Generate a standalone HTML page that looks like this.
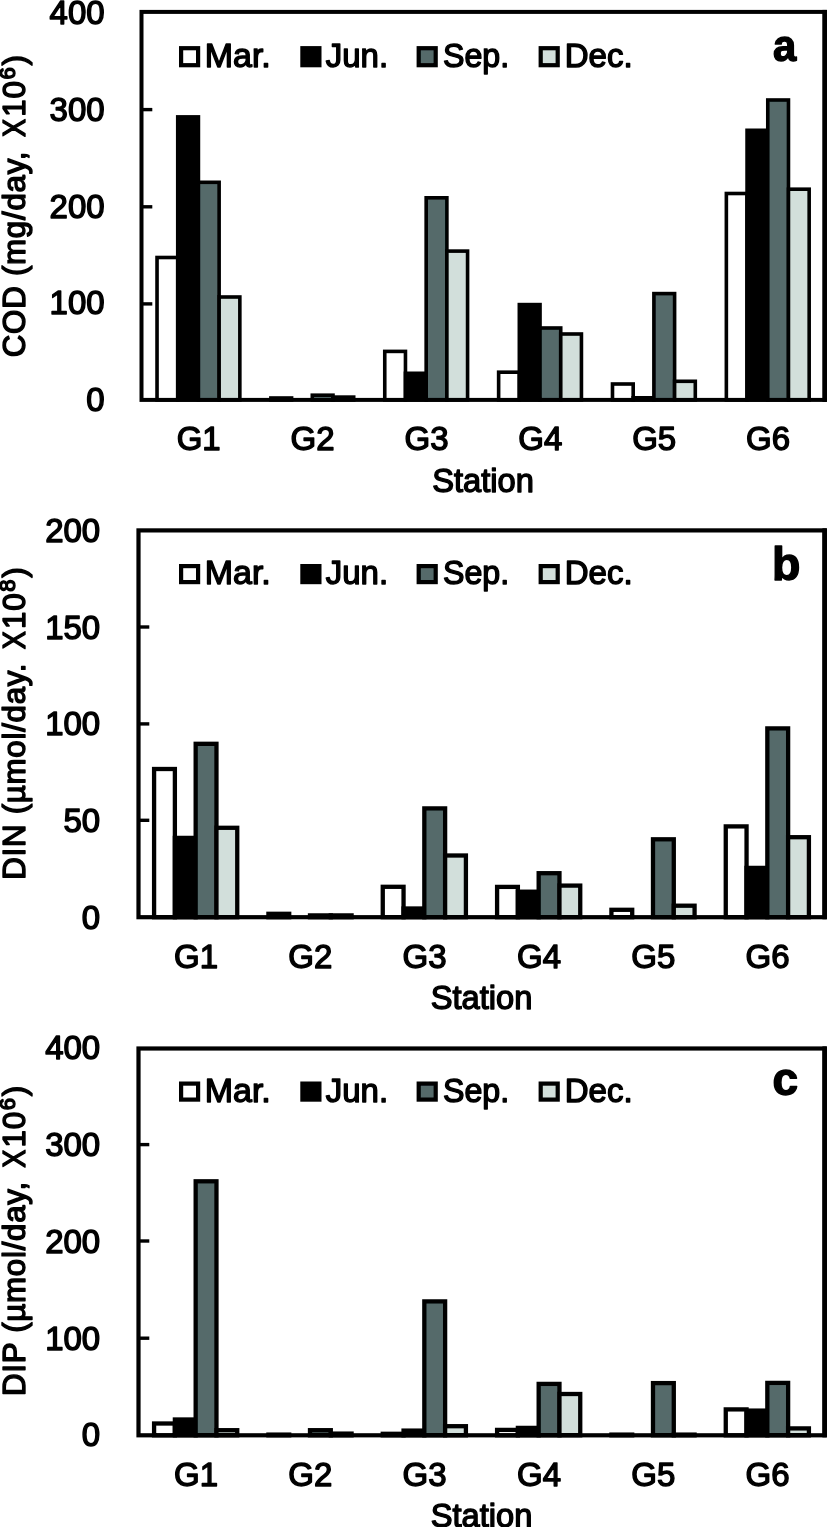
<!DOCTYPE html>
<html><head><meta charset="utf-8"><title>Figure</title>
<style>
html,body{margin:0;padding:0;background:#fff;}
body{width:827px;height:1527px;overflow:hidden;}
svg{display:block;}
text{font-family:"Liberation Sans",sans-serif;fill:#000;stroke:#000;stroke-width:1.4px;stroke-linejoin:round;}
.b{font-weight:bold;}
</style></head><body>
<svg width="827" height="1527" viewBox="0 0 827 1527">
<defs><filter id="soft" x="0" y="0" width="827" height="1527" filterUnits="userSpaceOnUse"><feGaussianBlur stdDeviation="0.55"/></filter></defs>
<rect width="827" height="1527" fill="#fff"/>
<g filter="url(#soft)">
<g>
<rect x="157.03" y="257.50" width="20.70" height="142.40" fill="#ffffff" stroke="#000" stroke-width="3.6"/>
<rect x="177.73" y="116.90" width="20.70" height="283.00" fill="#000000" stroke="#000" stroke-width="3.6"/>
<rect x="198.43" y="182.30" width="20.70" height="217.60" fill="#556a6b" stroke="#000" stroke-width="3.6"/>
<rect x="219.14" y="297.00" width="20.70" height="102.90" fill="#d2dfdb" stroke="#000" stroke-width="3.6"/>
<rect x="270.89" y="398.00" width="20.70" height="1.90" fill="#ffffff" stroke="#000" stroke-width="3.6"/>
<rect x="312.30" y="395.20" width="20.70" height="4.70" fill="#556a6b" stroke="#000" stroke-width="3.6"/>
<rect x="333.00" y="397.10" width="20.70" height="2.80" fill="#d2dfdb" stroke="#000" stroke-width="3.6"/>
<rect x="384.76" y="351.40" width="20.70" height="48.50" fill="#ffffff" stroke="#000" stroke-width="3.6"/>
<rect x="405.46" y="373.30" width="20.70" height="26.60" fill="#000000" stroke="#000" stroke-width="3.6"/>
<rect x="426.17" y="197.80" width="20.70" height="202.10" fill="#556a6b" stroke="#000" stroke-width="3.6"/>
<rect x="446.87" y="251.10" width="20.70" height="148.80" fill="#d2dfdb" stroke="#000" stroke-width="3.6"/>
<rect x="498.63" y="372.20" width="20.70" height="27.70" fill="#ffffff" stroke="#000" stroke-width="3.6"/>
<rect x="519.33" y="304.60" width="20.70" height="95.30" fill="#000000" stroke="#000" stroke-width="3.6"/>
<rect x="540.03" y="328.00" width="20.70" height="71.90" fill="#556a6b" stroke="#000" stroke-width="3.6"/>
<rect x="560.74" y="334.00" width="20.70" height="65.90" fill="#d2dfdb" stroke="#000" stroke-width="3.6"/>
<rect x="612.49" y="384.00" width="20.70" height="15.90" fill="#ffffff" stroke="#000" stroke-width="3.6"/>
<rect x="633.20" y="397.80" width="20.70" height="2.10" fill="#000000" stroke="#000" stroke-width="3.6"/>
<rect x="653.90" y="293.60" width="20.70" height="106.30" fill="#556a6b" stroke="#000" stroke-width="3.6"/>
<rect x="674.60" y="381.30" width="20.70" height="18.60" fill="#d2dfdb" stroke="#000" stroke-width="3.6"/>
<rect x="726.36" y="193.50" width="20.70" height="206.40" fill="#ffffff" stroke="#000" stroke-width="3.6"/>
<rect x="747.06" y="130.30" width="20.70" height="269.60" fill="#000000" stroke="#000" stroke-width="3.6"/>
<rect x="767.77" y="100.00" width="20.70" height="299.90" fill="#556a6b" stroke="#000" stroke-width="3.6"/>
<rect x="788.47" y="189.20" width="20.70" height="210.70" fill="#d2dfdb" stroke="#000" stroke-width="3.6"/>
<rect x="141.5" y="11.9" width="683.2" height="388.0" fill="none" stroke="#000" stroke-width="4.0"/>
<rect x="822.4" y="9.9" width="6" height="392.0" fill="#000"/>
<line x1="141.5" y1="109.6" x2="152.3" y2="109.6" stroke="#000" stroke-width="3.4"/>
<line x1="141.5" y1="206.8" x2="152.3" y2="206.8" stroke="#000" stroke-width="3.4"/>
<line x1="141.5" y1="303.9" x2="152.3" y2="303.9" stroke="#000" stroke-width="3.4"/>
<text transform="translate(104.6,24.3) scale(1.0,1)" font-size="33" text-anchor="end">400</text>
<text transform="translate(104.6,121.0) scale(1.0,1)" font-size="33" text-anchor="end">300</text>
<text transform="translate(104.6,217.6) scale(1.0,1)" font-size="33" text-anchor="end">200</text>
<text transform="translate(104.6,314.4) scale(1.0,1)" font-size="33" text-anchor="end">100</text>
<text transform="translate(104.6,410.8) scale(1.0,1)" font-size="33" text-anchor="end">0</text>
<rect x="181.1" y="48.2" width="17.0" height="17.0" fill="#ffffff" stroke="#000" stroke-width="4.2"/>
<text transform="translate(204.7,66.7) scale(1.03,1)" font-size="33" text-anchor="start">Mar.</text>
<rect x="302.4" y="48.2" width="17.0" height="17.0" fill="#000000" stroke="#000" stroke-width="4.2"/>
<text transform="translate(325.7,66.7) scale(1.0,1)" font-size="33" text-anchor="start">Jun.</text>
<rect x="418.7" y="48.2" width="17.0" height="17.0" fill="#556a6b" stroke="#000" stroke-width="4.2"/>
<text transform="translate(443.0,66.7) scale(0.975,1)" font-size="33" text-anchor="start">Sep.</text>
<rect x="540.7" y="48.2" width="17.0" height="17.0" fill="#d2dfdb" stroke="#000" stroke-width="4.2"/>
<text transform="translate(564.7,66.7) scale(1.0,1)" font-size="33" text-anchor="start">Dec.</text>
<text transform="translate(784.7,61.3) scale(0.93,1)" font-size="45" text-anchor="middle" class="b">a</text>
<text transform="translate(198.7,450.2) scale(1.0,1)" font-size="33" text-anchor="middle">G1</text>
<text transform="translate(312.6,450.2) scale(1.0,1)" font-size="33" text-anchor="middle">G2</text>
<text transform="translate(426.5,450.2) scale(1.0,1)" font-size="33" text-anchor="middle">G3</text>
<text transform="translate(540.3,450.2) scale(1.0,1)" font-size="33" text-anchor="middle">G4</text>
<text transform="translate(654.2,450.2) scale(1.0,1)" font-size="33" text-anchor="middle">G5</text>
<text transform="translate(768.1,450.2) scale(1.0,1)" font-size="33" text-anchor="middle">G6</text>
<text transform="translate(483.1,491.5) scale(0.99,1)" font-size="33" text-anchor="middle">Station</text>
<text transform="translate(25.4,357.2) rotate(-90)" font-size="31.3" letter-spacing="0.72" text-anchor="start">COD (mg/day, <tspan dx="4.5" textLength="18.8" lengthAdjust="spacingAndGlyphs">X</tspan><tspan dx="1.5">10</tspan><tspan font-size="22" dy="-10.5" dx="1">6</tspan><tspan dy="10.5" dx="1">)</tspan></text>
</g>
<g>
<rect x="154.09" y="769.00" width="20.79" height="148.20" fill="#ffffff" stroke="#000" stroke-width="4.3"/>
<rect x="174.88" y="837.90" width="20.79" height="79.30" fill="#000000" stroke="#000" stroke-width="4.3"/>
<rect x="195.67" y="743.80" width="20.79" height="173.40" fill="#556a6b" stroke="#000" stroke-width="4.3"/>
<rect x="216.45" y="827.80" width="20.79" height="89.40" fill="#d2dfdb" stroke="#000" stroke-width="4.3"/>
<rect x="268.42" y="913.80" width="20.79" height="3.40" fill="#ffffff" stroke="#000" stroke-width="4.3"/>
<rect x="310.00" y="915.40" width="20.79" height="1.80" fill="#556a6b" stroke="#000" stroke-width="4.3"/>
<rect x="330.79" y="915.40" width="20.79" height="1.80" fill="#d2dfdb" stroke="#000" stroke-width="4.3"/>
<rect x="382.76" y="886.80" width="20.79" height="30.40" fill="#ffffff" stroke="#000" stroke-width="4.3"/>
<rect x="403.55" y="908.50" width="20.79" height="8.70" fill="#000000" stroke="#000" stroke-width="4.3"/>
<rect x="424.33" y="808.40" width="20.79" height="108.80" fill="#556a6b" stroke="#000" stroke-width="4.3"/>
<rect x="445.12" y="855.50" width="20.79" height="61.70" fill="#d2dfdb" stroke="#000" stroke-width="4.3"/>
<rect x="497.09" y="886.90" width="20.79" height="30.30" fill="#ffffff" stroke="#000" stroke-width="4.3"/>
<rect x="517.88" y="891.70" width="20.79" height="25.50" fill="#000000" stroke="#000" stroke-width="4.3"/>
<rect x="538.67" y="873.20" width="20.79" height="44.00" fill="#556a6b" stroke="#000" stroke-width="4.3"/>
<rect x="559.45" y="885.60" width="20.79" height="31.60" fill="#d2dfdb" stroke="#000" stroke-width="4.3"/>
<rect x="611.42" y="909.80" width="20.79" height="7.40" fill="#ffffff" stroke="#000" stroke-width="4.3"/>
<rect x="653.00" y="839.30" width="20.79" height="77.90" fill="#556a6b" stroke="#000" stroke-width="4.3"/>
<rect x="673.79" y="905.70" width="20.79" height="11.50" fill="#d2dfdb" stroke="#000" stroke-width="4.3"/>
<rect x="725.76" y="826.40" width="20.79" height="90.80" fill="#ffffff" stroke="#000" stroke-width="4.3"/>
<rect x="746.55" y="867.90" width="20.79" height="49.30" fill="#000000" stroke="#000" stroke-width="4.3"/>
<rect x="767.33" y="728.40" width="20.79" height="188.80" fill="#556a6b" stroke="#000" stroke-width="4.3"/>
<rect x="788.12" y="837.20" width="20.79" height="80.00" fill="#d2dfdb" stroke="#000" stroke-width="4.3"/>
<rect x="138.5" y="530.4" width="686.0" height="386.8" fill="none" stroke="#000" stroke-width="4.2"/>
<rect x="822.4" y="528.3" width="6" height="391.0" fill="#000"/>
<line x1="138.5" y1="627.0" x2="149.3" y2="627.0" stroke="#000" stroke-width="3.4"/>
<line x1="138.5" y1="723.9" x2="149.3" y2="723.9" stroke="#000" stroke-width="3.4"/>
<line x1="138.5" y1="820.3" x2="149.3" y2="820.3" stroke="#000" stroke-width="3.4"/>
<text transform="translate(100.2,541.8) scale(1.0,1)" font-size="33" text-anchor="end">200</text>
<text transform="translate(100.2,638.6) scale(1.0,1)" font-size="33" text-anchor="end">150</text>
<text transform="translate(100.2,735.2) scale(1.0,1)" font-size="33" text-anchor="end">100</text>
<text transform="translate(100.2,831.9) scale(1.0,1)" font-size="33" text-anchor="end">50</text>
<text transform="translate(100.2,928.6) scale(1.0,1)" font-size="33" text-anchor="end">0</text>
<rect x="181.1" y="566.1" width="17.0" height="16.0" fill="#ffffff" stroke="#000" stroke-width="4.2"/>
<text transform="translate(204.7,584.0) scale(1.03,1)" font-size="33" text-anchor="start">Mar.</text>
<rect x="302.4" y="566.1" width="17.0" height="16.0" fill="#000000" stroke="#000" stroke-width="4.2"/>
<text transform="translate(325.7,584.0) scale(1.0,1)" font-size="33" text-anchor="start">Jun.</text>
<rect x="418.7" y="566.1" width="17.0" height="16.0" fill="#556a6b" stroke="#000" stroke-width="4.2"/>
<text transform="translate(443.0,584.0) scale(0.975,1)" font-size="33" text-anchor="start">Sep.</text>
<rect x="540.7" y="566.1" width="17.0" height="16.0" fill="#d2dfdb" stroke="#000" stroke-width="4.2"/>
<text transform="translate(564.7,584.0) scale(1.0,1)" font-size="33" text-anchor="start">Dec.</text>
<text transform="translate(786.3,579.6) scale(1.01,1)" font-size="46" text-anchor="middle" class="b">b</text>
<text transform="translate(196.0,967.5) scale(1.0,1)" font-size="33" text-anchor="middle">G1</text>
<text transform="translate(310.3,967.5) scale(1.0,1)" font-size="33" text-anchor="middle">G2</text>
<text transform="translate(424.6,967.5) scale(1.0,1)" font-size="33" text-anchor="middle">G3</text>
<text transform="translate(539.0,967.5) scale(1.0,1)" font-size="33" text-anchor="middle">G4</text>
<text transform="translate(653.3,967.5) scale(1.0,1)" font-size="33" text-anchor="middle">G5</text>
<text transform="translate(767.6,967.5) scale(1.0,1)" font-size="33" text-anchor="middle">G6</text>
<text transform="translate(481.5,1008.8) scale(0.99,1)" font-size="33" text-anchor="middle">Station</text>
<text transform="translate(25.4,879.8) rotate(-90)" font-size="31.3" letter-spacing="0.72" text-anchor="start">DIN (µmol/day. <tspan dx="4.0" textLength="18.8" lengthAdjust="spacingAndGlyphs">X</tspan><tspan dx="1.5">10</tspan><tspan font-size="22" dy="-10.5" dx="1">8</tspan><tspan dy="10.5" dx="1">)</tspan></text>
</g>
<g>
<rect x="154.09" y="1423.50" width="20.79" height="11.80" fill="#ffffff" stroke="#000" stroke-width="4.3"/>
<rect x="174.88" y="1419.50" width="20.79" height="15.80" fill="#000000" stroke="#000" stroke-width="4.3"/>
<rect x="195.67" y="1181.30" width="20.79" height="254.00" fill="#556a6b" stroke="#000" stroke-width="4.3"/>
<rect x="216.45" y="1430.20" width="20.79" height="5.10" fill="#d2dfdb" stroke="#000" stroke-width="4.3"/>
<rect x="268.42" y="1434.60" width="20.79" height="0.70" fill="#ffffff" stroke="#000" stroke-width="4.3"/>
<rect x="310.00" y="1430.20" width="20.79" height="5.10" fill="#556a6b" stroke="#000" stroke-width="4.3"/>
<rect x="330.79" y="1433.60" width="20.79" height="1.70" fill="#d2dfdb" stroke="#000" stroke-width="4.3"/>
<rect x="382.76" y="1433.80" width="20.79" height="1.50" fill="#ffffff" stroke="#000" stroke-width="4.3"/>
<rect x="403.55" y="1430.60" width="20.79" height="4.70" fill="#000000" stroke="#000" stroke-width="4.3"/>
<rect x="424.33" y="1301.40" width="20.79" height="133.90" fill="#556a6b" stroke="#000" stroke-width="4.3"/>
<rect x="445.12" y="1426.20" width="20.79" height="9.10" fill="#d2dfdb" stroke="#000" stroke-width="4.3"/>
<rect x="497.09" y="1429.90" width="20.79" height="5.40" fill="#ffffff" stroke="#000" stroke-width="4.3"/>
<rect x="517.88" y="1427.90" width="20.79" height="7.40" fill="#000000" stroke="#000" stroke-width="4.3"/>
<rect x="538.67" y="1383.90" width="20.79" height="51.40" fill="#556a6b" stroke="#000" stroke-width="4.3"/>
<rect x="559.45" y="1394.00" width="20.79" height="41.30" fill="#d2dfdb" stroke="#000" stroke-width="4.3"/>
<rect x="611.42" y="1434.60" width="20.79" height="0.70" fill="#ffffff" stroke="#000" stroke-width="4.3"/>
<rect x="653.00" y="1383.10" width="20.79" height="52.20" fill="#556a6b" stroke="#000" stroke-width="4.3"/>
<rect x="673.79" y="1434.60" width="20.79" height="0.70" fill="#d2dfdb" stroke="#000" stroke-width="4.3"/>
<rect x="725.76" y="1409.40" width="20.79" height="25.90" fill="#ffffff" stroke="#000" stroke-width="4.3"/>
<rect x="746.55" y="1410.60" width="20.79" height="24.70" fill="#000000" stroke="#000" stroke-width="4.3"/>
<rect x="767.33" y="1382.90" width="20.79" height="52.40" fill="#556a6b" stroke="#000" stroke-width="4.3"/>
<rect x="788.12" y="1428.40" width="20.79" height="6.90" fill="#d2dfdb" stroke="#000" stroke-width="4.3"/>
<rect x="138.5" y="1048.5" width="686.0" height="386.8" fill="none" stroke="#000" stroke-width="4.2"/>
<rect x="822.4" y="1046.4" width="6" height="391.0" fill="#000"/>
<line x1="138.5" y1="1144.6" x2="149.3" y2="1144.6" stroke="#000" stroke-width="3.4"/>
<line x1="138.5" y1="1241.0" x2="149.3" y2="1241.0" stroke="#000" stroke-width="3.4"/>
<line x1="138.5" y1="1338.2" x2="149.3" y2="1338.2" stroke="#000" stroke-width="3.4"/>
<text transform="translate(100.2,1059.4) scale(1.0,1)" font-size="33" text-anchor="end">400</text>
<text transform="translate(100.2,1155.9) scale(1.0,1)" font-size="33" text-anchor="end">300</text>
<text transform="translate(100.2,1252.8) scale(1.0,1)" font-size="33" text-anchor="end">200</text>
<text transform="translate(100.2,1349.5) scale(1.0,1)" font-size="33" text-anchor="end">100</text>
<text transform="translate(100.2,1446.2) scale(1.0,1)" font-size="33" text-anchor="end">0</text>
<rect x="181.1" y="1083.6" width="17.0" height="16.0" fill="#ffffff" stroke="#000" stroke-width="4.2"/>
<text transform="translate(204.7,1101.8) scale(1.03,1)" font-size="33" text-anchor="start">Mar.</text>
<rect x="302.4" y="1083.6" width="17.0" height="16.0" fill="#000000" stroke="#000" stroke-width="4.2"/>
<text transform="translate(325.7,1101.8) scale(1.0,1)" font-size="33" text-anchor="start">Jun.</text>
<rect x="418.7" y="1083.6" width="17.0" height="16.0" fill="#556a6b" stroke="#000" stroke-width="4.2"/>
<text transform="translate(443.0,1101.8) scale(0.975,1)" font-size="33" text-anchor="start">Sep.</text>
<rect x="540.7" y="1083.6" width="17.0" height="16.0" fill="#d2dfdb" stroke="#000" stroke-width="4.2"/>
<text transform="translate(564.7,1101.8) scale(1.0,1)" font-size="33" text-anchor="start">Dec.</text>
<text transform="translate(785.3,1095.0) scale(1.0,1)" font-size="46" text-anchor="middle" class="b">c</text>
<text transform="translate(196.0,1485.6) scale(1.0,1)" font-size="33" text-anchor="middle">G1</text>
<text transform="translate(310.3,1485.6) scale(1.0,1)" font-size="33" text-anchor="middle">G2</text>
<text transform="translate(424.6,1485.6) scale(1.0,1)" font-size="33" text-anchor="middle">G3</text>
<text transform="translate(539.0,1485.6) scale(1.0,1)" font-size="33" text-anchor="middle">G4</text>
<text transform="translate(653.3,1485.6) scale(1.0,1)" font-size="33" text-anchor="middle">G5</text>
<text transform="translate(767.6,1485.6) scale(1.0,1)" font-size="33" text-anchor="middle">G6</text>
<text transform="translate(481.5,1526.9) scale(0.99,1)" font-size="33" text-anchor="middle">Station</text>
<text transform="translate(25.4,1396.0) rotate(-90)" font-size="31.3" letter-spacing="0.72" text-anchor="start">DIP (µmol/day, <tspan dx="4.0" textLength="18.8" lengthAdjust="spacingAndGlyphs">X</tspan><tspan dx="1.5">10</tspan><tspan font-size="22" dy="-10.5" dx="1">6</tspan><tspan dy="10.5" dx="1">)</tspan></text>
</g>
</g>
</svg></body></html>
